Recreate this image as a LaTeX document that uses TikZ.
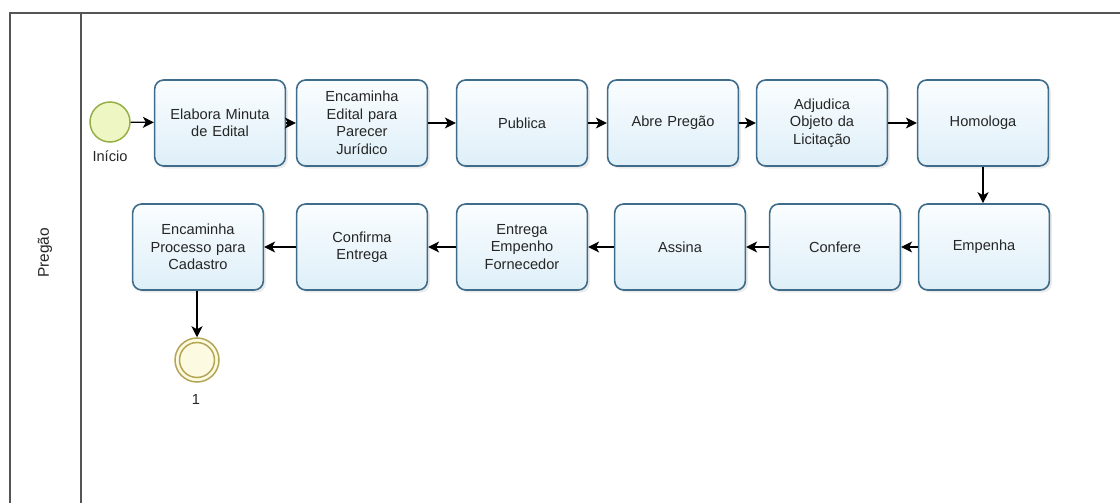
\documentclass[tikz,border=0pt]{standalone}
\usepackage{fontspec}
\setmainfont{Liberation Sans}
\usetikzlibrary{arrows.meta,shadows}
\definecolor{taskline}{RGB}{62,108,138}
\definecolor{tasktop}{RGB}{250,253,255}
\definecolor{taskbot}{RGB}{222,239,248}
\definecolor{poolline}{RGB}{85,85,85}
\definecolor{startfill}{RGB}{238,247,196}
\definecolor{startline}{RGB}{150,175,70}
\definecolor{endfill}{RGB}{252,250,225}
\definecolor{endline}{RGB}{180,165,85}
\begin{document}
\begin{tikzpicture}[x=1pt,y=-1pt,
  task/.style={draw=taskline, line width=1.6pt, rounded corners=9pt,
    top color=tasktop, bottom color=taskbot,
    minimum width=128pt, minimum height=86pt, text width=124pt, align=center,
    font=\fontsize{14.6}{17.5}\selectfont, text=black!85,
    drop shadow={opacity=0.16, shadow xshift=2.5pt, shadow yshift=-2.5pt}},
  flow/.style={draw=black, line width=1.3pt, -{Stealth[length=11pt,width=11pt,inset=3pt]}},
  lbl/.style={font=\fontsize{14.6}{17}\selectfont, text=black!85},
  pool/.style={draw=poolline, line width=1.6pt}]
\useasboundingbox (0,0) rectangle (1120,503);

% pool and lane header
\draw[pool] (10,503) -- (10,13) -- (1120,13);
\draw[pool] (81,13) -- (81,503);
\node[lbl, rotate=90, font=\fontsize{15.5}{18}\selectfont] (lane) at (45,253) {Pregão};

% start event
\node[circle, draw=startline, line width=1.5pt, fill=startfill,
  minimum size=40pt, inner sep=0pt] (start) at (110,122) {};
\node[lbl, anchor=north] (startlbl) at (110,147) {Início};

% first row of tasks
\node[task] (t1) at (220,123) {Elabora Minuta\\de Edital};
\node[task] (t2) at (362,123) {Encaminha\\Edital para\\Parecer\\Jurídico};
\node[task] (t3) at (522,123) {Publica};
\node[task] (t4) at (673,123) {Abre Pregão};
\node[task] (t5) at (822,123) {Adjudica\\Objeto da\\Licitação};
\node[task] (t6) at (983,123) {Homologa};

% second row of tasks
\node[task] (t7) at (984,247) {Empenha};
\node[task] (t8) at (835,247) {Confere};
\node[task] (t9) at (680,247) {Assina};
\node[task] (t10) at (522,247) {Entrega\\Empenho\\Fornecedor};
\node[task] (t11) at (362,247) {Confirma\\Entrega};
\node[task] (t12) at (198,247) {Encaminha\\Processo para\\Cadastro};

% intermediate event
\node[circle, draw=endline, line width=1.5pt, fill=endfill,
  minimum size=44pt, inner sep=0pt] (ev) at (197,360) {};
\node[circle, draw=endline, line width=1.5pt,
  minimum size=35pt, inner sep=0pt] (evin) at (197,360) {};
\node[lbl, anchor=north] (evlbl) at (196,391) {1};

% sequence flows
\draw[flow] (start) -- (t1);
\draw[flow] (t1) -- (t2);
\draw[flow] (t2) -- (t3);
\draw[flow] (t3) -- (t4);
\draw[flow] (t4) -- (t5);
\draw[flow] (t5) -- (t6);
\draw[flow] (t6.south) -- (t6.south |- t7.north);
\draw[flow] (t7) -- (t8);
\draw[flow] (t8) -- (t9);
\draw[flow] (t9) -- (t10);
\draw[flow] (t10) -- (t11);
\draw[flow] (t11) -- (t12);
\draw[flow] (t12.south -| ev) -- (ev.north);
\end{tikzpicture}
\end{document}
